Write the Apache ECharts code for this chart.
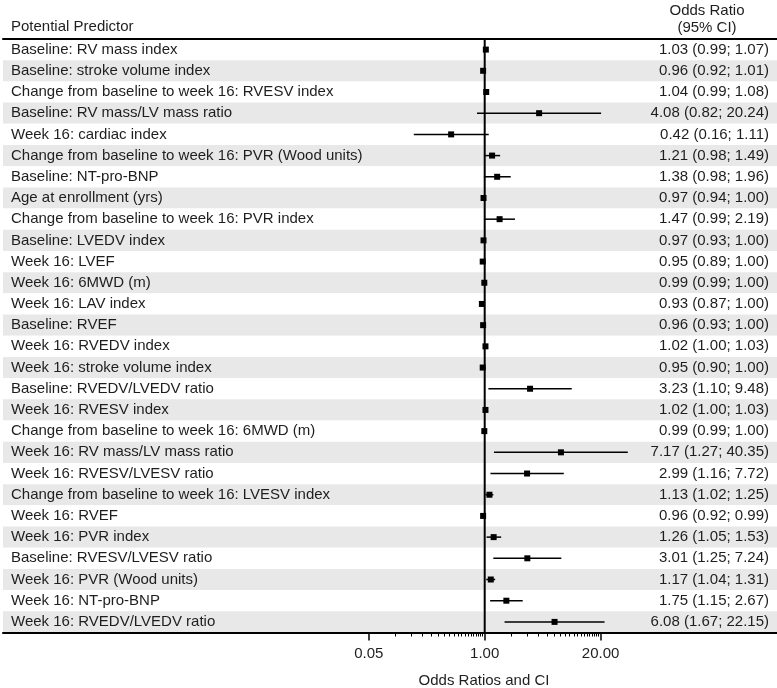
<!DOCTYPE html>
<html>
<head>
<meta charset="utf-8">
<script src="https://cdn.jsdelivr.net/npm/echarts@6/dist/echarts.min.js"></script>
<style>
html,body{margin:0;padding:0;background:#fff;}
#chart{width:777px;height:688px;}
</style>
</head>
<body>
<div id="chart"></div>
<script>
const predictors = [
  "Baseline: RV mass index",
  "Baseline: stroke volume index",
  "Change from baseline to week 16: RVESV index",
  "Baseline: RV mass/LV mass ratio",
  "Week 16: cardiac index",
  "Change from baseline to week 16: PVR (Wood units)",
  "Baseline: NT-pro-BNP",
  "Age at enrollment (yrs)",
  "Change from baseline to week 16: PVR index",
  "Baseline: LVEDV index",
  "Week 16: LVEF",
  "Week 16: 6MWD (m)",
  "Week 16: LAV index",
  "Baseline: RVEF",
  "Week 16: RVEDV index",
  "Week 16: stroke volume index",
  "Baseline: RVEDV/LVEDV ratio",
  "Week 16: RVESV index",
  "Change from baseline to week 16: 6MWD (m)",
  "Week 16: RV mass/LV mass ratio",
  "Week 16: RVESV/LVESV ratio",
  "Change from baseline to week 16: LVESV index",
  "Week 16: RVEF",
  "Week 16: PVR index",
  "Baseline: RVESV/LVESV ratio",
  "Week 16: PVR (Wood units)",
  "Week 16: NT-pro-BNP",
  "Week 16: RVEDV/LVEDV ratio"
];
const oddsRatio = [1.03, 0.96, 1.04, 4.08, 0.42, 1.21, 1.38, 0.97, 1.47, 0.97, 0.95, 0.99, 0.93, 0.96, 1.02, 0.95, 3.23, 1.02, 0.99, 7.17, 2.99, 1.13, 0.96, 1.26, 3.01, 1.17, 1.75, 6.08];
const ciLower  = [0.99, 0.92, 0.99, 0.82, 0.16, 0.98, 0.98, 0.94, 0.99, 0.93, 0.89, 0.99, 0.87, 0.93, 1.00, 0.90, 1.10, 1.00, 0.99, 1.27, 1.16, 1.02, 0.92, 1.05, 1.25, 1.04, 1.15, 1.67];
const ciUpper  = [1.07, 1.01, 1.08, 20.24, 1.11, 1.49, 1.96, 1.00, 2.19, 1.00, 1.00, 1.00, 1.00, 1.00, 1.03, 1.00, 9.48, 1.03, 1.00, 40.35, 7.72, 1.25, 0.99, 1.53, 7.24, 1.31, 2.67, 22.15];
const referenceValue = 1;
const majorTicks = [0.05, 1, 20];
const minorTicks = [0.1, 0.15, 0.2, 0.25, 0.3, 0.35, 0.4, 0.45, 0.5, 0.55, 0.6, 0.65, 0.7, 0.75, 0.8, 0.85, 0.9, 0.95,
                    2, 3, 4, 5, 6, 7, 8, 9, 10, 11, 12, 13, 14, 15, 16, 17, 18, 19];

const orText = oddsRatio.map((v, i) => v.toFixed(2) + ' (' + ciLower[i].toFixed(2) + '; ' + ciUpper[i].toFixed(2) + ')');
const seriesData = oddsRatio.map((v, i) => [ciLower[i], ciUpper[i], v, i]);

// axis extent chosen so that 1.00 sits at x≈484.7 with ≈89.1 px per decade
const gridLeft = 3, gridRight = 0, W = 777;
const pxPerDecade = 89.1, oneX = 484.7;
const xMin = Math.pow(10, -(oneX - gridLeft) / pxPerDecade);
const xMax = Math.pow(10, (W - gridRight - oneX) / pxPerDecade);

const FONT = '"Liberation Sans", Arial, Helvetica, sans-serif';
const TXT = '#1e1e1e';

const chart = echarts.init(document.getElementById('chart'), null, {renderer: 'canvas'});
chart.setOption({
  animation: false,
  backgroundColor: '#ffffff',
  textStyle: {fontFamily: FONT},
  title: [
    {text: 'Potential Predictor', left: 11, top: 19, padding: 0,
     textStyle: {fontSize: 15, fontWeight: 'normal', color: TXT, fontFamily: FONT}},
    {text: 'Odds Ratio\n(95% CI)', left: 707, top: 2, padding: 0, textAlign: 'center',
     textStyle: {fontSize: 15, fontWeight: 'normal', color: TXT, fontFamily: FONT, lineHeight: 17, align: 'center'}},
    {text: 'Odds Ratios and CI', left: 484, top: 673, padding: 0, textAlign: 'center',
     textStyle: {fontSize: 15, fontWeight: 'normal', color: TXT, fontFamily: FONT}}
  ],
  grid: {left: gridLeft, right: gridRight, top: 39, bottom: 55.5, containLabel: false},
  xAxis: [
    {
      type: 'log', min: xMin, max: xMax, position: 'bottom',
      axisLine: {show: true, lineStyle: {color: '#000', width: 2}},
      axisTick: {show: true, customValues: majorTicks, length: 8, lineStyle: {color: '#000', width: 1.5}},
      axisLabel: {show: true, customValues: majorTicks, formatter: v => Number(v).toFixed(2),
                  fontSize: 15, color: TXT, margin: 14, fontFamily: FONT},
      splitLine: {show: false}, minorTick: {show: false}
    },
    {
      type: 'log', min: xMin, max: xMax, position: 'bottom',
      axisLine: {show: false},
      axisTick: {show: true, customValues: minorTicks, length: 4, lineStyle: {color: '#000', width: 1}},
      axisLabel: {show: false},
      splitLine: {show: false}
    },
    {
      type: 'value', min: 0, max: 1, position: 'top',
      axisLine: {show: true, lineStyle: {color: '#000', width: 2}},
      axisTick: {show: false}, axisLabel: {show: false}, splitLine: {show: false}
    }
  ],
  yAxis: [
    {
      type: 'category', data: predictors, inverse: true, position: 'left',
      axisLine: {show: false}, axisTick: {show: false},
      axisLabel: {inside: true, margin: 8, fontSize: 15, color: TXT, fontFamily: FONT, interval: 0},
      splitArea: {show: true, interval: 0, areaStyle: {color: ['#ffffff', '#e8e8e8']}},
      splitLine: {show: false}
    },
    {
      type: 'category', data: orText, inverse: true, position: 'right',
      axisLine: {show: false}, axisTick: {show: false},
      axisLabel: {inside: true, margin: 8, fontSize: 15, color: TXT, fontFamily: FONT, interval: 0},
      splitArea: {show: false}, splitLine: {show: false}
    }
  ],
  series: [
    {
      type: 'custom',
      xAxisIndex: 0, yAxisIndex: 0,
      encode: {x: [0, 1, 2], y: 3},
      data: seriesData,
      renderItem: function (params, api) {
        const y = api.value(3);
        const pLo = api.coord([api.value(0), y]);
        const pHi = api.coord([api.value(1), y]);
        const pOr = api.coord([api.value(2), y]);
        const s = 6;
        const children = [];
        if (params.dataIndex === 0) {
          const cs = params.coordSys;
          const xr = api.coord([referenceValue, y])[0];
          children.push({type: 'line', z2: 0,
            shape: {x1: xr, y1: cs.y, x2: xr, y2: cs.y + cs.height},
            style: {stroke: '#000', lineWidth: 2}});
        }
        children.push(
          {type: 'line', z2: 1, shape: {x1: pLo[0], y1: pLo[1], x2: pHi[0], y2: pHi[1]},
           style: {stroke: '#000', lineWidth: 1.5}},
          {type: 'rect', z2: 2, shape: {x: pOr[0] - s / 2, y: pOr[1] - s / 2, width: s, height: s},
           style: {fill: '#000'}}
        );
        return {type: 'group', children: children};
      },
      z: 3
    }
  ]
});
</script>
</body>
</html>
